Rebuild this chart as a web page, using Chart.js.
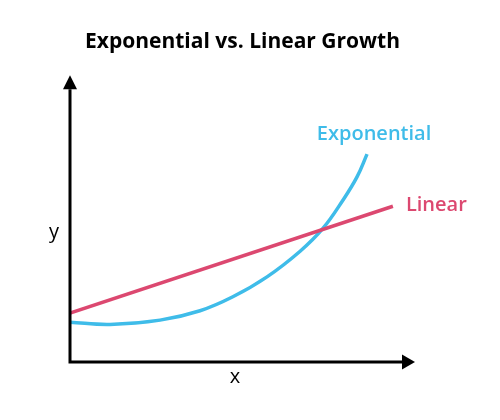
<!DOCTYPE html>
<html>
<head>
<meta charset="utf-8">
<script src="https://cdn.jsdelivr.net/npm/chart.js@4.4.0/dist/chart.umd.min.js"></script>
<style>
  html, body { margin: 0; padding: 0; background: #ffffff; }
  #wrap { width: 500px; height: 420px; }
</style>
</head>
<body>
<div id="wrap"><canvas id="growthChart"></canvas></div>
<script>
// values (x and y in arbitrary units, 0..10)
const expX = [0, 1.16, 2.61, 3.77, 4.72, 5.71, 6.67, 7.33, 7.91, 8.32, 8.61];
const expY = [1.40, 1.32, 1.47, 1.80, 2.29, 2.99, 3.89, 4.69, 5.68, 6.50, 7.30];
const linX = [0, 9.36];
const linY = [1.72, 5.47];
const seriesNames = ['Exponential', 'Linear'];
const titleText = 'Exponential vs. Linear Growth';
const axisNames = ['x', 'y'];

const blue = '#3fbce9';
const pink = '#dc4870';

function toPoints(xs, ys) {
    return xs.map((x, i) => ({ x: x, y: ys[i] }));
}

// axes with arrow heads + series labels
const arrowAxes = {
    id: 'arrowAxes',
    afterDatasetsDraw(chart) {
        const ctx = chart.ctx;
        const xs = chart.scales.x;
        const ys = chart.scales.y;
        const x0 = xs.getPixelForValue(0);
        const y0 = ys.getPixelForValue(0);
        const xEnd = xs.getPixelForValue(10);
        const yEnd = ys.getPixelForValue(10);

        ctx.save();
        ctx.strokeStyle = '#000';
        ctx.fillStyle = '#000';
        ctx.lineWidth = 3;
        ctx.beginPath();
        ctx.moveTo(x0, y0);
        ctx.lineTo(x0, yEnd + 12);
        ctx.moveTo(x0 - 1.5, y0);
        ctx.lineTo(xEnd - 12, y0);
        ctx.stroke();

        // y arrow
        ctx.beginPath();
        ctx.moveTo(x0, yEnd - 2);
        ctx.lineTo(x0 - 7, yEnd + 12);
        ctx.lineTo(x0 + 7, yEnd + 12);
        ctx.closePath();
        ctx.fill();
        // x arrow
        ctx.beginPath();
        ctx.moveTo(xEnd, y0);
        ctx.lineTo(xEnd - 13, y0 - 7.5);
        ctx.lineTo(xEnd - 13, y0 + 7.5);
        ctx.closePath();
        ctx.fill();

        // axis names
        ctx.font = '500 20px "Open Sans"';
        ctx.textAlign = 'center';
        ctx.textBaseline = 'middle';
        ctx.fillText(axisNames[0], 235, y0 + 15);
        ctx.fillText(axisNames[1], x0 - 16, ys.getPixelForValue(4.55));

        // series labels next to the line ends
        ctx.font = '600 20px "Open Sans"';
        const eLast = expX.length - 1;
        ctx.fillStyle = blue;
        ctx.fillText(seriesNames[0], xs.getPixelForValue(expX[eLast]) + 7, ys.getPixelForValue(expY[eLast]) - 20);
        ctx.fillStyle = pink;
        ctx.textAlign = 'left';
        ctx.fillText(seriesNames[1], xs.getPixelForValue(linX[1]) + 13, ys.getPixelForValue(linY[1]) - 1);
        ctx.restore();
    }
};

new Chart(document.getElementById('growthChart'), {
    type: 'scatter',
    data: {
        datasets: [
            {
                label: seriesNames[1],
                data: toPoints(linX, linY),
                showLine: true,
                borderColor: pink,
                borderWidth: 3.5,
                pointRadius: 0
            },
            {
                label: seriesNames[0],
                data: toPoints(expX, expY),
                showLine: true,
                borderColor: blue,
                borderWidth: 3.5,
                pointRadius: 0,
                tension: 0.4
            }
        ]
    },
    options: {
        responsive: true,
        maintainAspectRatio: false,
        animation: false,
        layout: { padding: { left: 70, right: 85, bottom: 58, top: 0 } },
        scales: {
            x: { type: 'linear', min: 0, max: 10, display: false },
            y: { type: 'linear', min: 0, max: 10, display: false }
        },
        plugins: {
            legend: { display: false },
            tooltip: { enabled: false },
            title: {
                display: true,
                text: titleText,
                color: '#000',
                font: { family: '"Open Sans"', size: 21, weight: 'bold' },
                padding: { top: 29, bottom: 23 }
            }
        }
    },
    plugins: [arrowAxes]
});
</script>
</body>
</html>
